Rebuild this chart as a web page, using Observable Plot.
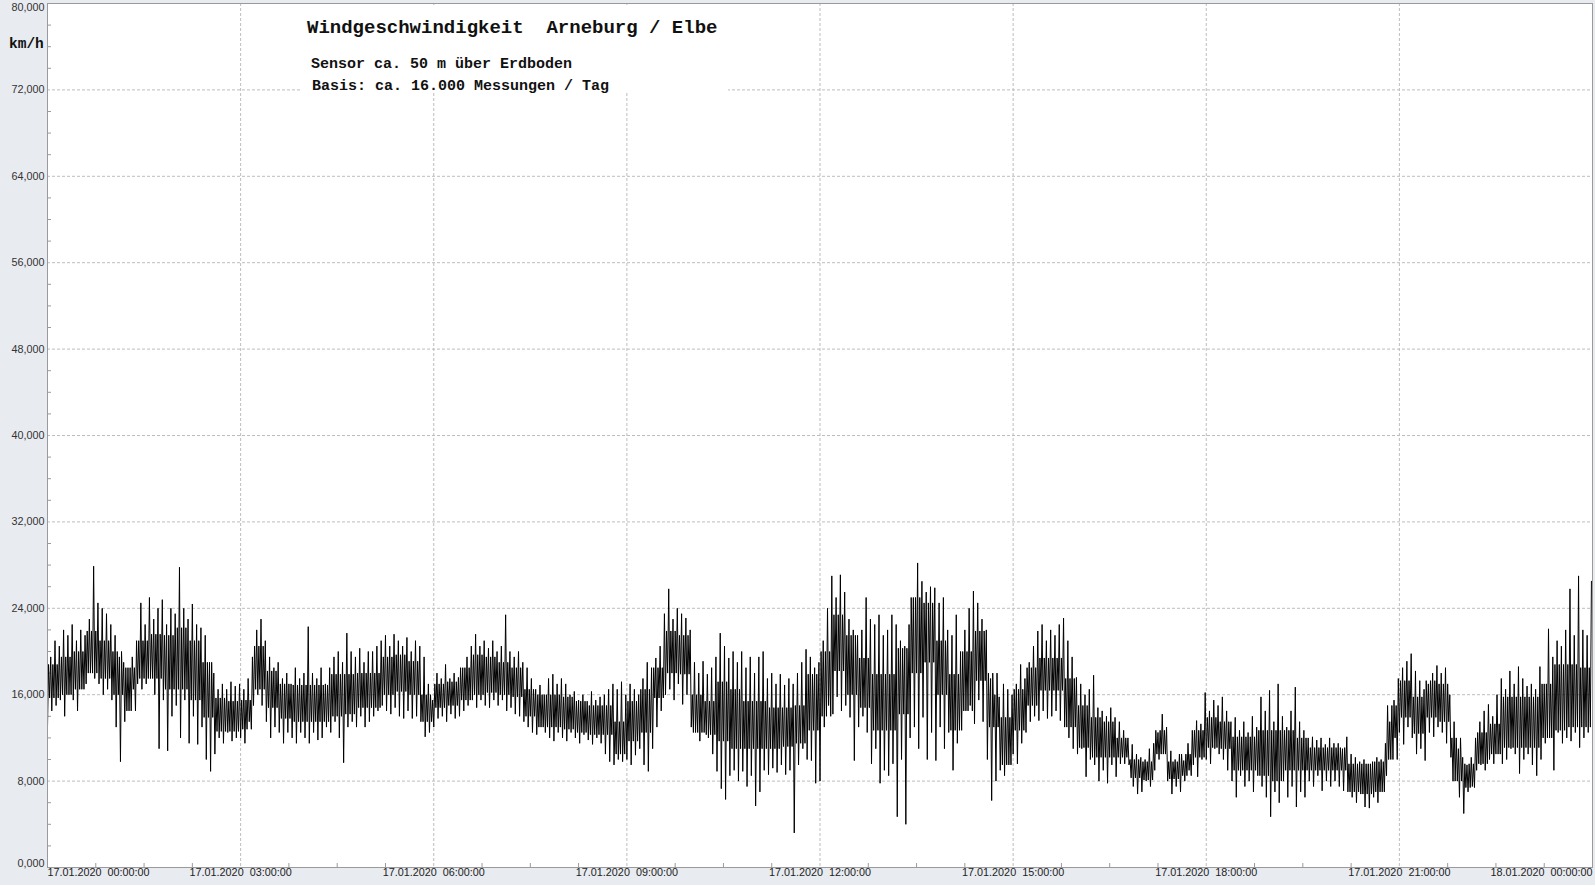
<!DOCTYPE html>
<html><head><meta charset="utf-8">
<script src="https://cdn.jsdelivr.net/npm/d3@7"></script>
<script src="https://cdn.jsdelivr.net/npm/@observablehq/plot@0.6"></script>
<style>
html,body{margin:0;padding:0;background:#e8ebf0;}
#wrap{position:relative;width:1595px;height:885px;overflow:hidden;}
#box{position:absolute;left:300px;top:5px;width:428px;height:87px;background:#fff;}
.mono{position:absolute;font-family:"Liberation Mono","DejaVu Sans Mono",monospace;font-weight:bold;color:#111;white-space:pre;}
#title{left:7px;top:14px;font-size:19px;line-height:19px;}
#sub1{left:11px;top:52px;font-size:15px;line-height:15px;}
#sub2{left:12px;top:74px;font-size:15px;line-height:15px;}
#unit{left:9px;top:37px;font-size:14.5px;line-height:14.5px;}
</style>
</head><body>
<div id="wrap">
  <div id="chart"></div>
  <div id="box">
    <div class="mono" id="title">Windgeschwindigkeit  Arneburg / Elbe</div>
    <div class="mono" id="sub1">Sensor ca. 50 m über Erdboden</div>
    <div class="mono" id="sub2">Basis: ca. 16.000 Messungen / Tag</div>
  </div>
  <div class="mono" id="unit">km/h</div>
</div>
<script>
// ---- data (km/h), 17.01.2020 00:00 – 18.01.2020 00:00 ----
const binMinutes = 4;     // extremes per 4-minute bin
// highest value in each 4-minute bin
const hi = [
  19.5,21.0,20.5,22.0,21.5,22.5,21.0,22.0,21.5,23.0,27.9,24.5,24.0,23.5,22.5,   // 00h
  21.5,19.5,19.0,18.5,19.5,21.0,24.5,22.5,25.0,23.0,24.0,24.8,22.5,24.0,23.5,   // 01h
  27.8,24.0,23.0,24.4,22.5,22.2,21.5,19.0,18.0,16.5,17.0,16.5,17.2,16.8,17.0,   // 02h
  16.5,17.5,19.5,22.0,23.0,21.0,19.5,18.5,19.0,17.5,18.0,17.0,18.5,17.5,18.0,   // 03h
  22.3,18.0,17.5,18.5,17.0,18.5,19.5,20.0,19.0,21.7,20.0,19.5,20.3,19.0,20.0,   // 04h
  20.0,20.5,21.0,21.5,20.5,21.6,21.0,20.5,21.3,20.0,21.0,20.5,19.5,17.0,15.5,   // 05h
  18.0,17.5,18.8,17.5,18.0,17.6,18.5,19.5,20.5,21.6,20.5,21.0,20.3,21.0,20.0,   // 06h
  20.5,23.4,20.0,19.5,20.0,19.0,18.5,17.5,16.5,16.9,16.0,17.5,17.9,17.0,17.5,   // 07h
  17.0,16.0,16.3,15.5,16.0,15.4,16.3,15.5,15.8,16.0,16.5,17.0,16.5,17.2,16.0,   // 08h
  17.0,16.5,16.0,17.5,19.0,18.5,19.4,20.5,23.5,25.8,23.0,24.0,23.5,23.1,22.0,   // 09h
  19.0,18.0,19.1,17.9,18.5,19.5,21.7,20.5,19.4,20.0,19.0,20.0,18.5,19.5,18.0,   // 10h
  19.5,20.0,17.5,18.0,17.0,17.9,16.9,17.5,17.0,18.0,19.0,20.2,19.5,18.5,19.0,   // 11h
  21.0,24.0,27.0,25.0,27.1,25.5,23.0,22.0,21.5,22.0,25.0,23.0,22.5,23.4,21.5,   // 12h
  22.0,23.4,22.5,21.0,20.5,22.5,25.0,28.2,26.5,25.5,26.0,25.9,24.5,25.0,22.0,   // 13h
  21.5,23.4,20.0,22.0,24.0,25.6,24.5,23.0,22.0,17.5,16.0,15.8,17.0,16.5,16.0,   // 14h
  17.0,18.8,17.5,19.0,20.5,21.9,22.5,21.0,22.0,21.5,22.5,23.1,21.0,19.5,17.6,   // 15h
  17.0,16.0,16.5,17.8,14.8,14.5,14.0,14.8,13.9,13.5,12.7,12.0,11.4,10.5,10.2,   // 16h
  10.0,11.0,11.5,12.5,14.2,13.0,10.8,10.0,10.5, 9.9,11.5,12.7,13.6,13.3,16.2,   // 17h
  14.5,15.5,15.0,15.8,14.5,13.5,13.9,12.7,13.5,12.5,14.0,13.0,15.8,14.5,16.4,   // 18h
  13.5,17.0,14.0,13.0,14.5,16.7,13.5,12.7,12.0,12.1,11.8,12.0,11.4,12.0,11.5,   // 19h
  11.5,11.0,12.1,10.5,10.2, 9.8,10.0, 9.6, 9.8,10.2,10.0,11.5,13.5,15.5,17.5,   // 20h
  18.5,19.1,19.8,18.2,17.3,16.5,17.0,18.0,18.7,18.0,18.5,16.0,13.5,11.0,10.2,   // 21h
   9.5,10.2,12.0,13.5,14.5,15.1,14.0,16.0,17.5,16.5,18.2,17.0,18.6,17.5,16.8,   // 22h
  17.0,16.5,18.6,17.0,22.1,19.5,21.0,20.5,22.0,25.8,21.5,27.0,22.0,21.5,26.5    // 23h
];
// lowest value in each 4-minute bin
const lo = [
  13.0,14.5,15.0,15.5,14.0,16.0,15.5,14.5,16.5,17.0,18.0,17.5,17.0,16.0,16.5,   // 00h
  15.5,13.0, 9.8,13.5,14.5,16.5,17.0,16.5,17.0,17.5,16.0,11.0,15.5,10.8,14.0,   // 01h
  15.0,12.0,15.5,11.5,14.0,11.4,13.0,10.0, 8.9,10.5,12.0,11.5,12.5,11.7,12.0,   // 02h
  12.0,11.5,13.5,15.0,16.0,15.0,13.5,12.0,13.0,12.5,11.5,12.5,12.0,11.5,12.5,   // 03h
  12.0,11.5,12.5,11.8,12.0,13.0,12.5,13.5,12.0, 9.7,13.0,13.5,13.0,14.0,13.0,   // 04h
  13.5,14.0,14.5,15.0,14.5,14.2,14.8,14.0,13.8,14.5,13.8,14.0,13.5,12.1,12.5,   // 05h
  13.0,13.8,14.0,13.5,14.2,13.8,14.0,14.5,15.0,15.5,14.8,15.5,15.0,14.8,15.5,   // 06h
  15.0,15.5,14.5,14.8,14.2,14.0,13.5,13.0,12.5,12.3,13.0,12.5,12.0,11.7,12.5,   // 07h
  12.0,11.7,12.5,12.0,11.5,12.3,11.8,11.4,12.0,11.5,10.5, 9.8, 9.5,10.0, 9.8,   // 08h
  10.0, 9.5,10.4,11.0, 9.5, 8.9,11.0,13.0,14.5,16.0,16.5,15.5,17.0,15.1,16.0,   // 09h
  13.0,12.5,11.7,12.5,12.0,10.5, 8.9, 7.3, 6.3, 8.5, 9.0, 8.0, 8.9, 7.5, 8.5,   // 10h
   5.7, 7.0, 9.0, 8.6, 9.2, 8.8, 9.5, 8.6, 9.0, 3.2, 9.5,11.0,10.0, 9.9, 7.8,   // 11h
   8.0,13.0,15.0,14.2,15.8,14.5,15.0,13.9, 9.9,13.0,14.0,12.5, 9.6,11.0, 7.8,   // 12h
   9.0, 8.5, 9.6, 4.7,10.0, 4.0,12.0,13.0,11.0,13.9,10.0,12.5, 9.9,13.0,11.0,   // 13h
  12.5, 9.0,11.5,12.7,14.5,15.0,13.3,15.5,13.5,10.0, 6.2, 8.0, 9.0, 8.5, 9.5,   // 14h
  10.5, 9.6,11.5,12.5,13.5,14.0,13.6,14.5,13.8,14.0,14.5,13.6,13.0,12.0,11.0,   // 15h
  10.5,11.0, 8.4,10.0, 9.5, 8.0, 9.0, 7.8, 9.5, 8.4, 9.6, 9.6, 9.5, 7.5, 6.8,   // 16h
   7.0, 8.0, 7.5, 9.0,10.0,10.5, 8.0, 6.8, 7.5, 7.0, 8.0, 9.0, 9.5, 8.4,10.0,   // 17h
  10.0, 9.6,11.0,10.5,10.0, 9.0, 8.0, 6.5, 8.5, 7.5, 8.0, 7.0, 8.5, 7.5, 6.5,   // 18h
   4.7, 7.0, 6.0, 8.0, 6.5, 7.5, 5.6, 7.0, 6.5, 8.0, 7.5, 8.5, 7.1, 8.0, 7.5,   // 19h
   8.0, 7.5, 7.1, 7.0, 6.5, 6.0, 6.8, 5.6, 5.5, 6.5, 6.0, 7.0, 8.5,10.0,12.0,   // 20h
  12.5,11.4,13.0,12.0,10.5,11.0, 9.9,12.5,12.1,13.0,12.5,11.5,10.2, 8.0, 6.5,   // 21h
   5.0, 7.0, 7.5, 9.0, 9.5, 9.0,10.0, 9.6,10.5, 9.6,10.0,11.0,10.5, 8.7,10.0,   // 22h
  10.5, 9.5, 8.5,10.0,11.5,12.0, 9.0,12.5,11.5,12.0,11.7,12.5,11.1,12.0,12.5    // 23h
];
const coreMinutes = 12;   // typical (dense) range per 12-minute bin
const coreLo = [
  15.7,16.0,16.5,18.0,17.5,  16.0,14.5,17.5,17.5,16.5,  16.5,15.5,13.9,12.6,12.6,
  12.8,16.5,14.8,13.8,13.5,  13.5,13.5,14.0,14.2,14.8,  14.8,16.0,16.3,16.0,13.5,
  14.8,15.0,15.5,16.0,16.2,  16.0,15.8,14.0,13.0,13.0,  12.8,12.5,12.3,12.3,10.5,
  11.7,12.5,15.7,18.0,17.9,  12.5,12.3,11.7,11.0,11.0,  11.0,11.0,11.2,11.5,12.7,
  14.0,18.2,16.0,14.8,12.7,  12.7,14.2,18.0,19.0,16.0,  12.7,14.5,17.3,13.0, 9.5,
  12.7,15.0,16.4,16.4,13.0,  11.1,10.2,10.2,10.2, 8.3,   8.1,10.5, 8.2, 8.5,10.2,
  11.1,11.0, 9.0, 9.0, 8.5,   8.0, 9.0, 9.0, 9.0, 9.0,   9.0, 7.0, 6.8, 7.0,10.0,
  13.9,12.4,13.9,13.5, 8.0,   7.4, 9.6,10.5,11.1,11.1,  11.1,12.0,12.7,13.0,13.0
];
const coreHi = [
  18.8,19.5,20.0,21.9,21.0,  20.0,18.5,21.0,21.6,21.5,  22.2,21.0,19.0,15.7,15.4,
  15.5,20.5,18.2,17.0,16.9,  16.9,16.9,17.9,17.9,18.0,  18.0,19.5,19.7,19.1,16.0,
  17.0,17.2,18.5,19.7,19.5,  19.0,18.5,16.5,16.0,16.0,  15.8,15.4,15.0,15.0,13.5,
  15.4,16.5,18.5,21.9,21.5,  16.0,15.4,17.2,16.5,15.4,  15.4,14.8,14.8,15.0,17.9,
  20.0,23.4,21.5,19.4,17.9,  17.9,20.3,25.0,24.5,21.0,  17.9,20.0,21.9,18.0,13.9,
  16.5,18.5,19.4,19.4,17.5,  15.0,13.9,13.5,12.0,10.0,   9.8,12.7, 9.8,10.5,12.7,
  13.9,13.5,12.1,12.1,12.7,  12.7,12.7,12.0,11.1,11.1,  11.1, 9.6, 9.6, 9.8,15.0,
  17.3,15.8,17.3,17.0,12.0,   9.6,12.5,13.3,15.8,15.8,  15.8,17.0,18.8,18.8,18.5
];
const yTicks = [0, 8, 16, 24, 32, 40, 48, 56, 64, 72, 80];
const xTickHours = [0, 3, 6, 9, 12, 15, 18, 21, 24];
const dayStart = new Date(2020, 0, 17, 0, 0, 0);

// ---- build: per 4-minute bin the trace visits low, typical high, typical low, high ----
const MIN = 60000;
const at = (m) => new Date(dayStart.getTime() + m * MIN);
const series = [];
const per = coreMinutes / binMinutes;
for (let i = 0; i < hi.length; i++) {
  const k = Math.floor(i / per), t0 = i * binMinutes;
  series.push({t: at(t0), v: lo[i]});
  series.push({t: at(t0 + 1), v: coreHi[k]});
  series.push({t: at(t0 + 2), v: coreLo[k]});
  series.push({t: at(t0 + 3), v: hi[i]});
}
const xTicks = xTickHours.map(h => at(h * 60));
const xGrid = xTicks.slice(1, -1);
const xMinor = d3.range(45, 1440, 45).filter(m => m % 180 !== 0).map(at);
const yGrid = yTicks.slice(1, -1);
const yMinor = d3.range(2, 80, 2).filter(v => v % 8 !== 0);
const yFmt = v => v.toFixed(3).replace(".", ",");
const xFmt = d3.timeFormat("%d.%m.%Y\u00a0\u00a0%H:%M:%S");

const W = 1595, H = 885, mL = 47, mR = 3, mT = 3, mB = 18;
const pW = W - mL - mR, pH = H - mT - mB;
const gridStyle = {stroke: "#bdbdbd", strokeDasharray: "3,2", strokeWidth: 1};
const labelFont = {fontSize: 10.8, fontFamily: "Liberation Sans, Arial, sans-serif"};

const chart = Plot.plot({
  width: W, height: H,
  marginLeft: mL, marginRight: mR, marginTop: mT, marginBottom: mB,
  style: {background: "transparent", fontFamily: "Liberation Sans, Arial, sans-serif"},
  x: {type: "time", domain: [xTicks[0], xTicks[xTicks.length - 1]], axis: null},
  y: {domain: [yTicks[0], yTicks[yTicks.length - 1]], axis: null},
  marks: [
    Plot.frame({fill: "white", stroke: null}),
    Plot.ruleY(yGrid, gridStyle),
    Plot.ruleX(xGrid, gridStyle),
    Plot.tickY(yMinor, {y: d => d, insetRight: pW - 4, stroke: "#9a9a9a"}),
    Plot.tickX(xMinor, {x: d => d, insetTop: pH - 4, stroke: "#9a9a9a"}),
    Plot.line(series, {x: "t", y: "v", stroke: "#000", strokeWidth: 1}),
    Plot.frame({stroke: "#9a9a9a"}),
    // y labels
    Plot.text(yGrid, {y: d => d, text: yFmt, frameAnchor: "left", dx: -3, textAnchor: "end", fill: "#333", ...labelFont}),
    Plot.text([yTicks[yTicks.length - 1]], {y: d => d, text: yFmt, frameAnchor: "left", dx: -3, textAnchor: "end", lineAnchor: "top", fill: "#333", ...labelFont}),
    Plot.text([yTicks[0]], {y: d => d, text: yFmt, frameAnchor: "left", dx: -3, dy: -1, textAnchor: "end", lineAnchor: "bottom", fill: "#333", ...labelFont}),
    // x labels
    Plot.text(xGrid, {x: d => d, text: xFmt, frameAnchor: "bottom", dy: 8, textAnchor: "middle", fill: "#222", ...labelFont}),
    Plot.text([xTicks[0]], {x: d => d, text: xFmt, frameAnchor: "bottom", dy: 8, textAnchor: "start", fill: "#222", ...labelFont}),
    Plot.text([xTicks[xTicks.length - 1]], {x: d => d, text: xFmt, frameAnchor: "bottom", dy: 8, textAnchor: "end", fill: "#222", ...labelFont})
  ]
});
document.getElementById("chart").appendChild(chart);
</script>
</body></html>
